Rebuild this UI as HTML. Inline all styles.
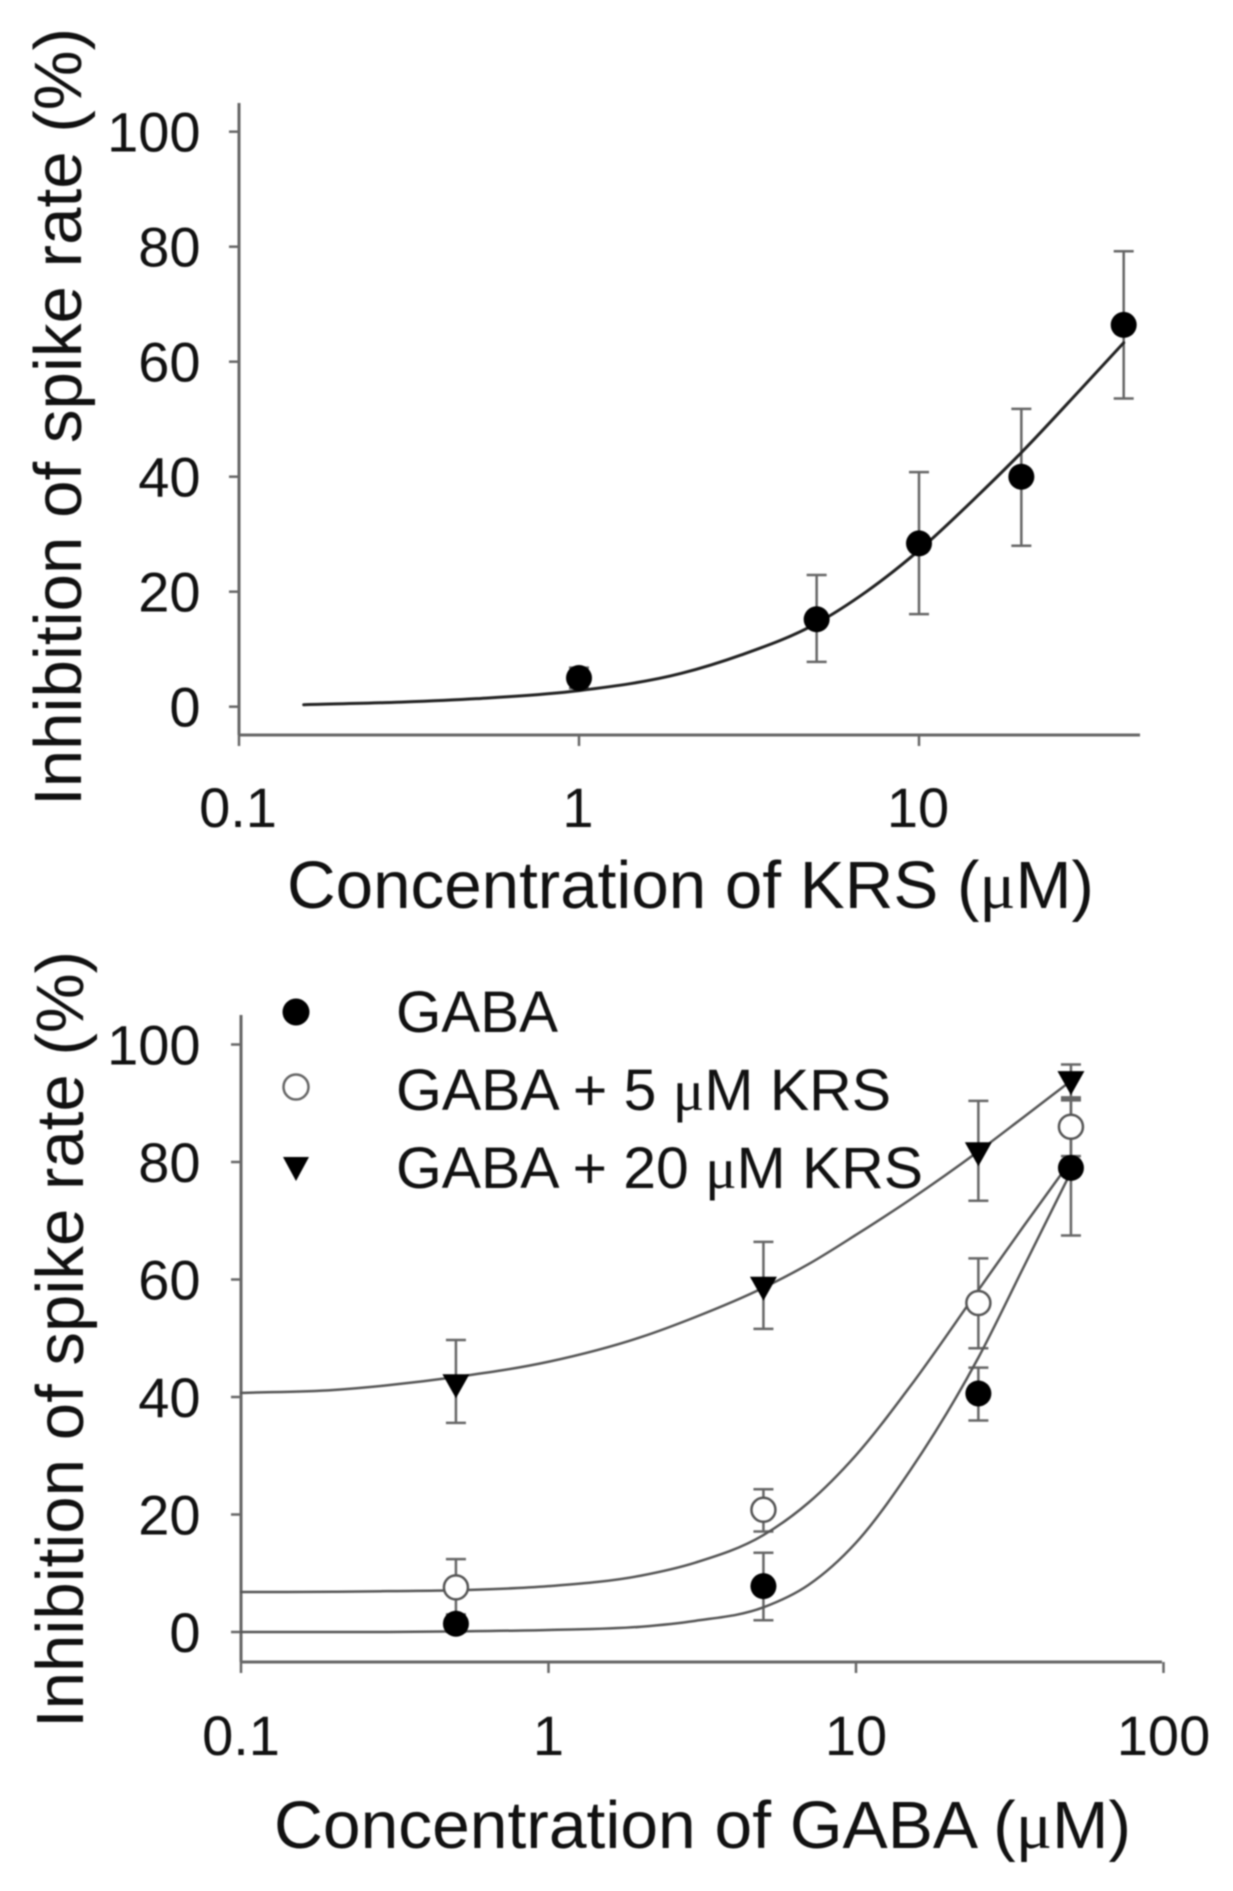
<!DOCTYPE html>
<html lang="en">
<head>
<meta charset="utf-8">
<title>Inhibition of spike rate vs concentration</title>
<style>
html,body{margin:0;padding:0;background:#fff;}
#figure{display:block;filter:blur(0.8px);}
text{font-family:"Liberation Sans",sans-serif;fill:#111;}
.tick-label{font-size:56px;}
.axis-title{font-size:66.8px;}
.legend-label{font-size:58px;}
.mu{font-family:"Liberation Serif",serif;}
</style>
</head>
<body>
<svg id="figure" xmlns="http://www.w3.org/2000/svg" width="1233" height="1891" viewBox="0 0 1233 1891">
  <rect width="1233" height="1891" fill="#fff"/>

  <g id="top-panel">
    <text class="axis-title" transform="translate(81,806) rotate(-90)" textLength="778" lengthAdjust="spacingAndGlyphs">Inhibition of spike rate (%)</text>
    <text class="axis-title" x="287" y="908" textLength="807" lengthAdjust="spacingAndGlyphs">Concentration of KRS (<tspan class="mu">μ</tspan>M)</text>
  </g>

  <g id="bottom-panel">
    <text class="axis-title" transform="translate(83,1728) rotate(-90)" textLength="777" lengthAdjust="spacingAndGlyphs">Inhibition of spike rate (%)</text>
    <text class="axis-title" x="274" y="1848" textLength="857" lengthAdjust="spacingAndGlyphs">Concentration of GABA (<tspan class="mu">μ</tspan>M)</text>
  </g>

  <g id="legend">
    <circle cx="296" cy="1012" r="13.5" fill="#000"/>
    <text class="legend-label" x="396" y="1032" textLength="162" lengthAdjust="spacingAndGlyphs">GABA</text>
    <circle cx="296" cy="1087" r="12.5" fill="#fff" stroke="#666" stroke-width="2.5"/>
    <text class="legend-label" x="396" y="1110" textLength="495" lengthAdjust="spacingAndGlyphs">GABA + 5 <tspan class="mu">μ</tspan>M KRS</text>
    <polygon points="283,1157 309,1157 296,1181" fill="#000"/>
    <text class="legend-label" x="396" y="1188" textLength="527" lengthAdjust="spacingAndGlyphs">GABA + 20 <tspan class="mu">μ</tspan>M KRS</text>
  </g>
</svg>

<script>
// Shared tick values
const yTicks = [0, 20, 40, 60, 80, 100];

// Top chart: KRS
const krsXTicks = [0.1, 1, 10];
const krsXTickLabels = ['0.1', '1', '10'];
const krsConc = [1, 5, 10, 20, 40];
const krsMean = [5, 15.2, 28.4, 40, 66.4];
const krsUpper = [6.8, 22.9, 40.8, 51.8, 79.2];
const krsLower = [3.2, 7.8, 16.1, 28, 53.6];
const krsCurveConc = [0.155, 0.3, 0.5, 1, 2, 3, 5, 7, 10, 15, 20, 30, 40];
const krsCurveValue = [0.35, 0.8, 1.4, 2.8, 5.8, 9, 14.5, 20, 27.2, 36.9, 44.2, 55.3, 63.3];

// Bottom chart: GABA
const gabaXTicks = [0.1, 1, 10, 100];
const gabaXTickLabels = ['0.1', '1', '10', '100'];
const gabaConc = [0.5, 5, 25, 50];

const gabaMean = [1.4, 7.8, 40.6, 79];
const gabaUpper = [3, 13.5, 45, 90.5];
const gabaLower = [0, 2, 36, 67.5];

const krs5Mean = [7.6, 20.8, 56, 86];
const krs5Upper = [12.4, 24.3, 63.6, 91];
const krs5Lower = [2.8, 17.1, 48.3, 81];

const krs20Mean = [42, 58.6, 81.5, 93.6];
const krs20Upper = [49.7, 66.4, 90.4, 96.6];
const krs20Lower = [35.6, 51.6, 73.4, 90.6];

const fitConc = [0.1, 0.2, 0.3, 0.5, 1, 2, 3, 5, 7, 10, 15, 25, 35, 50];
const gabaFit = [0, 0, 0, 0.1, 0.35, 0.9, 1.9, 4.2, 8, 15.2, 27.5, 46.7, 62, 78.3];
const krs5Fit = [6.8, 6.85, 6.95, 7.1, 7.8, 9.6, 11.8, 16.5, 22, 30.1, 41.8, 58.2, 69, 80.2];
const krs20Fit = [40.7, 41.2, 42, 43.4, 46, 50.2, 53.6, 58.6, 62.6, 67.6, 73.6, 81.8, 87.6, 93.8];

const NS = 'http://www.w3.org/2000/svg';
const AXIS = '#666';
const ERR = '#666';

const xTop = v => 239 + 340 * (Math.log10(v) + 1);
const yTop = v => 706.7 - 5.75 * v;
const xBot = v => 241 + 307.5 * (Math.log10(v) + 1);
const yBot = v => 1632 - 5.875 * v;

function make(tag, parent, attrs) {
  const el = document.createElementNS(NS, tag);
  for (const k in attrs) el.setAttribute(k, attrs[k]);
  parent.appendChild(el);
  return el;
}

// Non-uniform cubic spline through the points, tangents weighted by spacing.
function smoothPath(xs, ys) {
  const n = xs.length;
  const m = xs.map((_, i) => {
    if (i === 0) return (ys[1] - ys[0]) / (xs[1] - xs[0]);
    if (i === n - 1) return (ys[n - 1] - ys[n - 2]) / (xs[n - 1] - xs[n - 2]);
    const h0 = xs[i] - xs[i - 1], h1 = xs[i + 1] - xs[i];
    const s0 = (ys[i] - ys[i - 1]) / h0, s1 = (ys[i + 1] - ys[i]) / h1;
    return (s0 * h1 + s1 * h0) / (h0 + h1);
  });
  let d = 'M' + xs[0].toFixed(2) + ' ' + ys[0].toFixed(2);
  for (let i = 0; i < n - 1; i++) {
    const h = xs[i + 1] - xs[i];
    d += 'C' + (xs[i] + h / 3).toFixed(2) + ' ' + (ys[i] + m[i] * h / 3).toFixed(2) + ' ' +
      (xs[i + 1] - h / 3).toFixed(2) + ' ' + (ys[i + 1] - m[i + 1] * h / 3).toFixed(2) + ' ' +
      xs[i + 1].toFixed(2) + ' ' + ys[i + 1].toFixed(2);
  }
  return d;
}

function drawAxes(root, prefix, xFn, yFn, xVals, xLabels, xLeft, xRight, axisTop, axisY, labelBaseline, labelShift) {
  const yAxis = make('line', root, {x1: xLeft, x2: xLeft, y1: axisTop, y2: axisY, stroke: AXIS, 'stroke-width': 3});
  
  
  const xAxis = make('line', root, {x1: xLeft - 1, x2: xRight, y1: axisY, y2: axisY, stroke: AXIS, 'stroke-width': 3});
  
  

  yTicks.forEach(v => {
    const t = make('line', root, {x1: xLeft - 10, x2: xLeft, y1: yFn(v), y2: yFn(v), stroke: AXIS, 'stroke-width': 2.5});
    
    
    const l = make('text', root, {x: 200.5, y: yFn(v) + 20, 'text-anchor': 'end', class: 'tick-label'});
    
    
    l.textContent = String(v);
  });

  xVals.forEach((v, i) => {
    const t = make('line', root, {x1: xFn(v), x2: xFn(v), y1: axisY, y2: axisY + 11, stroke: AXIS, 'stroke-width': 2.5});
    
    
    const l = make('text', root, {x: xFn(v) + labelShift, y: labelBaseline, 'text-anchor': 'middle', class: 'tick-label'});
    
    
    l.textContent = xLabels[i];
  });
}

function drawErrors(root, name, xFn, yFn, xs, hi, lo) {
  xs.forEach((v, i) => {
    const x = xFn(v);
    const g = make('g', root, {stroke: ERR, 'stroke-width': 2.5, fill: 'none'});
    
    
    make('line', g, {x1: x, x2: x, y1: yFn(hi[i]), y2: yFn(lo[i])});
    make('line', g, {x1: x - 10, x2: x + 10, y1: yFn(hi[i]), y2: yFn(hi[i])});
    make('line', g, {x1: x - 10, x2: x + 10, y1: yFn(lo[i]), y2: yFn(lo[i])});
  });
}

function drawCurve(root, name, xFn, yFn, xs, ys, color, width) {
  const p = make('path', root, {d: smoothPath(xs.map(xFn), ys.map(yFn)), fill: 'none', stroke: color, 'stroke-width': width, 'stroke-linecap': 'round'});
  
  
}

function drawMarkers(root, name, xFn, yFn, xs, ys, kind) {
  xs.forEach((v, i) => {
    const cx = xFn(v), cy = yFn(ys[i]);
    let m;
    if (kind === 'filled') {
      m = make('circle', root, {cx: cx, cy: cy, r: 13, fill: '#000'});
    } else if (kind === 'open') {
      m = make('circle', root, {cx: cx, cy: cy, r: 12, fill: '#fff', stroke: '#555', 'stroke-width': 2.5});
    } else {
      m = make('polygon', root, {points: (cx - 13.5) + ',' + (cy - 11) + ' ' + (cx + 13.5) + ',' + (cy - 11) + ' ' + cx + ',' + (cy + 13), fill: '#000'});
    }
    
    
  });
}

const topPanel = document.getElementById('top-panel');
drawAxes(topPanel, 'krs', xTop, yTop, krsXTicks, krsXTickLabels, 239, 1140, 103, 735, 827, -1);
drawErrors(topPanel, 'krs', xTop, yTop, krsConc, krsUpper, krsLower);
drawCurve(topPanel, 'krs', xTop, yTop, krsCurveConc, krsCurveValue, '#222', 3);
drawMarkers(topPanel, 'krs', xTop, yTop, krsConc, krsMean, 'filled');

const botPanel = document.getElementById('bottom-panel');
drawAxes(botPanel, 'gaba', xBot, yBot, gabaXTicks, gabaXTickLabels, 241, 1162, 1015, 1662, 1755, 0);
drawErrors(botPanel, 'gaba', xBot, yBot, gabaConc, gabaUpper, gabaLower);
drawErrors(botPanel, 'gaba-5-krs', xBot, yBot, gabaConc, krs5Upper, krs5Lower);
drawErrors(botPanel, 'gaba-20-krs', xBot, yBot, gabaConc, krs20Upper, krs20Lower);
drawCurve(botPanel, 'gaba', xBot, yBot, fitConc, gabaFit, '#555', 2.5);
drawCurve(botPanel, 'gaba-5-krs', xBot, yBot, fitConc, krs5Fit, '#555', 2.5);
drawCurve(botPanel, 'gaba-20-krs', xBot, yBot, fitConc, krs20Fit, '#555', 2.5);
drawMarkers(botPanel, 'gaba-20-krs', xBot, yBot, gabaConc, krs20Mean, 'triangle');
drawMarkers(botPanel, 'gaba-5-krs', xBot, yBot, gabaConc, krs5Mean, 'open');
drawMarkers(botPanel, 'gaba', xBot, yBot, gabaConc, gabaMean, 'filled');
</script>
</body>
</html>
